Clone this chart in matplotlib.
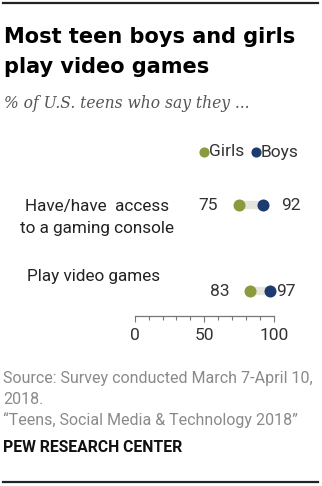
import matplotlib.pyplot as plt
from matplotlib.lines import Line2D

# Data
categories = ["Have/have  access\nto a gaming console", "Play video games"]
girls = [75, 83]
boys = [92, 97]
xticks = [0, 50, 100]

GIRL_C = "#8b9a3c"
BOY_C = "#1d3b6f"
BAR_C = "#e6e5dc"
W, H = 322, 486

plt.rcParams["font.family"] = ["Roboto", "DejaVu Sans"]
fig = plt.figure(figsize=(W / 100, H / 100), dpi=100)
fig.patch.set_facecolor("white")


def px(x, y):
    return x / W, 1 - y / H


def lines_at(x, baselines, text, **kw):
    for yy, line in zip(baselines, text.split("\n")):
        fig.text(*px(x, yy), line, va="baseline", **kw)


# rules top and bottom
for yy in (3, 482):
    fig.add_artist(Line2D([3 / W, 318 / W], [1 - yy / H] * 2, color="#222222", lw=1.6))

# title and subtitle
lines_at(4, [43, 73], "Most teen boys and girls\nplay video games", fontsize=15,
         fontweight="bold", family=["DejaVu Sans"], color="black", ha="left")
fig.text(*px(4, 108), "% of U.S. teens who say they ...", fontsize=11.2, style="italic",
         family=["DejaVu Serif"], color="#555555", ha="left", va="baseline")

# dot plot axes: x in percent, rows by index
ax = fig.add_axes([134.7 / W, (H - 316) / H, (274 - 134.7) / W, (316 - 140) / H])
ax.set_xlim(0, 100)
ax.set_ylim(1.29, -0.756)
for s in ("top", "right", "left"):
    ax.spines[s].set_visible(False)
ax.spines["bottom"].set_color("#777777")
ax.spines["bottom"].set_linewidth(0.9)
ax.set_yticks([])
ax.set_xticks(xticks)
ax.set_xticks(range(0, 101, 10), minor=True)
ax.tick_params(axis="x", which="major", length=4, width=0.8, color="#777777",
               labelsize=12.5, labelcolor="#333333", pad=5)
ax.tick_params(axis="x", which="minor", length=3, width=0.8, color="#777777")
ax.patch.set_alpha(0)

girl_offsets = [-15, -15]
boy_offsets = [13, 4.3]
for i, (g, b) in enumerate(zip(girls, boys)):
    ax.plot([g, b], [i, i], color=BAR_C, lw=6, solid_capstyle="butt", zorder=1, clip_on=False)
    ax.scatter([g], [i], s=75, color=GIRL_C, zorder=3, clip_on=False, linewidths=0)
    ax.scatter([b], [i], s=75, color=BOY_C, zorder=3, clip_on=False, linewidths=0)
    ax.annotate(str(g), (g, i), xytext=(girl_offsets[i], 0), textcoords="offset points",
                ha="right", va="center", fontsize=12.5, color="#333333")
    ax.annotate(str(b), (b, i), xytext=(boy_offsets[i], 0), textcoords="offset points",
                ha="left", va="center", fontsize=12.5, color="#333333")

# row labels
lines_at(97.5, [211, 233], categories[0], fontsize=12.3, color="#222222", ha="center")
lines_at(93.5, [281], categories[1], fontsize=12.3, color="#222222", ha="center")

# legend
fig.add_artist(Line2D([204 / W], [1 - 152 / H], marker="o", ms=6.3, color=GIRL_C, lw=0))
fig.text(*px(209, 152), "Girls", fontsize=12.5, color="#333333", ha="left", va="center")
fig.add_artist(Line2D([256 / W], [1 - 152 / H], marker="o", ms=6.3, color=BOY_C, lw=0))
fig.text(*px(261, 152), "Boys", fontsize=12.5, color="#333333", ha="left", va="center")

# source notes
lines_at(3, [383, 404, 425],
         "Source: Survey conducted March 7-April 10,\n2018.\n\u201cTeens, Social Media & Technology 2018\u201d",
         fontsize=11.5, color="#8a8a8a", ha="left")
fig.text(*px(3, 452), "PEW RESEARCH CENTER", fontsize=11.3, fontweight="bold",
         color="#111111", ha="left", va="baseline")

fig.savefig("out.png", dpi=100, facecolor="white")
